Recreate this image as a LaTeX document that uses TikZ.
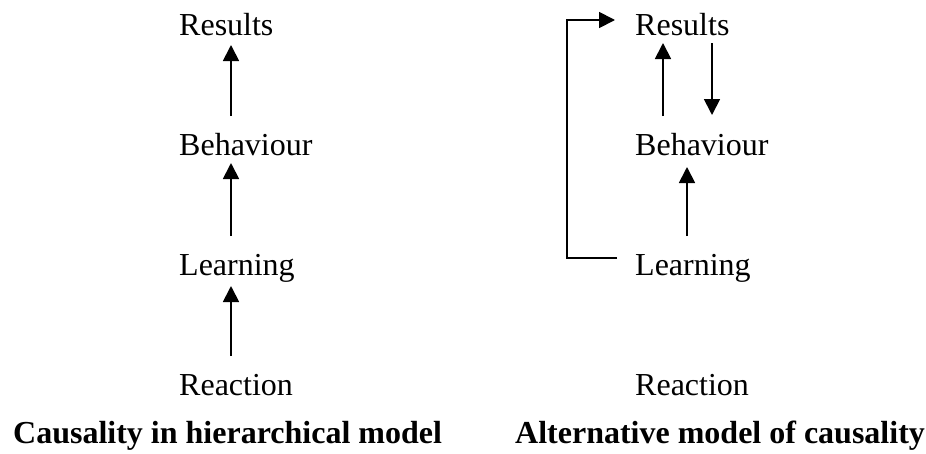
\documentclass[tikz,border=0pt]{standalone}
\usepackage{fontspec}
\setmainfont{Liberation Serif}
\usetikzlibrary{arrows.meta,calc}

\begin{document}
\begin{tikzpicture}[x=1pt,y=-1pt,
  level/.style={inner sep=0pt,anchor=base west,font=\fontsize{32}{38}\selectfont},
  caption/.style={inner sep=0pt,anchor=base west,font=\fontsize{32}{38}\selectfont\bfseries},
  arr/.style={line width=1.8pt,-{Triangle[length=16pt,width=16pt]}}]
\useasboundingbox (0,0) rectangle (926,453);

% hierarchical chain
\node[level] (r1)  at (179,35)  {Results};
\node[level] (b1)  at (179,155) {Behaviour};
\node[level] (l1)  at (179,275) {Learning};
\node[level] (re1) at (179,395) {Reaction};

\draw[arr] ($(b1.base west)+(52,-39)$)  -- ($(r1.base west)+(52,10)$);
\draw[arr] ($(l1.base west)+(52,-39)$)  -- ($(b1.base west)+(52,8)$);
\draw[arr] ($(re1.base west)+(52,-39)$) -- ($(l1.base west)+(52,11)$);

\node[caption] (c1) at (13,443) {Causality in hierarchical model};

% alternative chain
\node[level] (r2)  at (635,35)  {Results};
\node[level] (b2)  at (635,155) {Behaviour};
\node[level] (l2)  at (635,275) {Learning};
\node[level] (re2) at (635,395) {Reaction};

\draw[arr] ($(b2.base west)+(28,-39)$) -- ($(r2.base west)+(28,8)$);
\draw[arr] ($(r2.base west)+(77,8)$)   -- ($(b2.base west)+(77,-40)$);
\draw[arr] ($(l2.base west)+(52,-39)$) -- ($(b2.base west)+(52,12)$);
\draw[arr] ($(l2.base west)+(-18,-17)$) -- ++(-50,0) |- ($(r2.base west)+(-20,-15)$);

\node[caption] (c2) at (515,443) {Alternative model of causality};
\end{tikzpicture}
\end{document}
